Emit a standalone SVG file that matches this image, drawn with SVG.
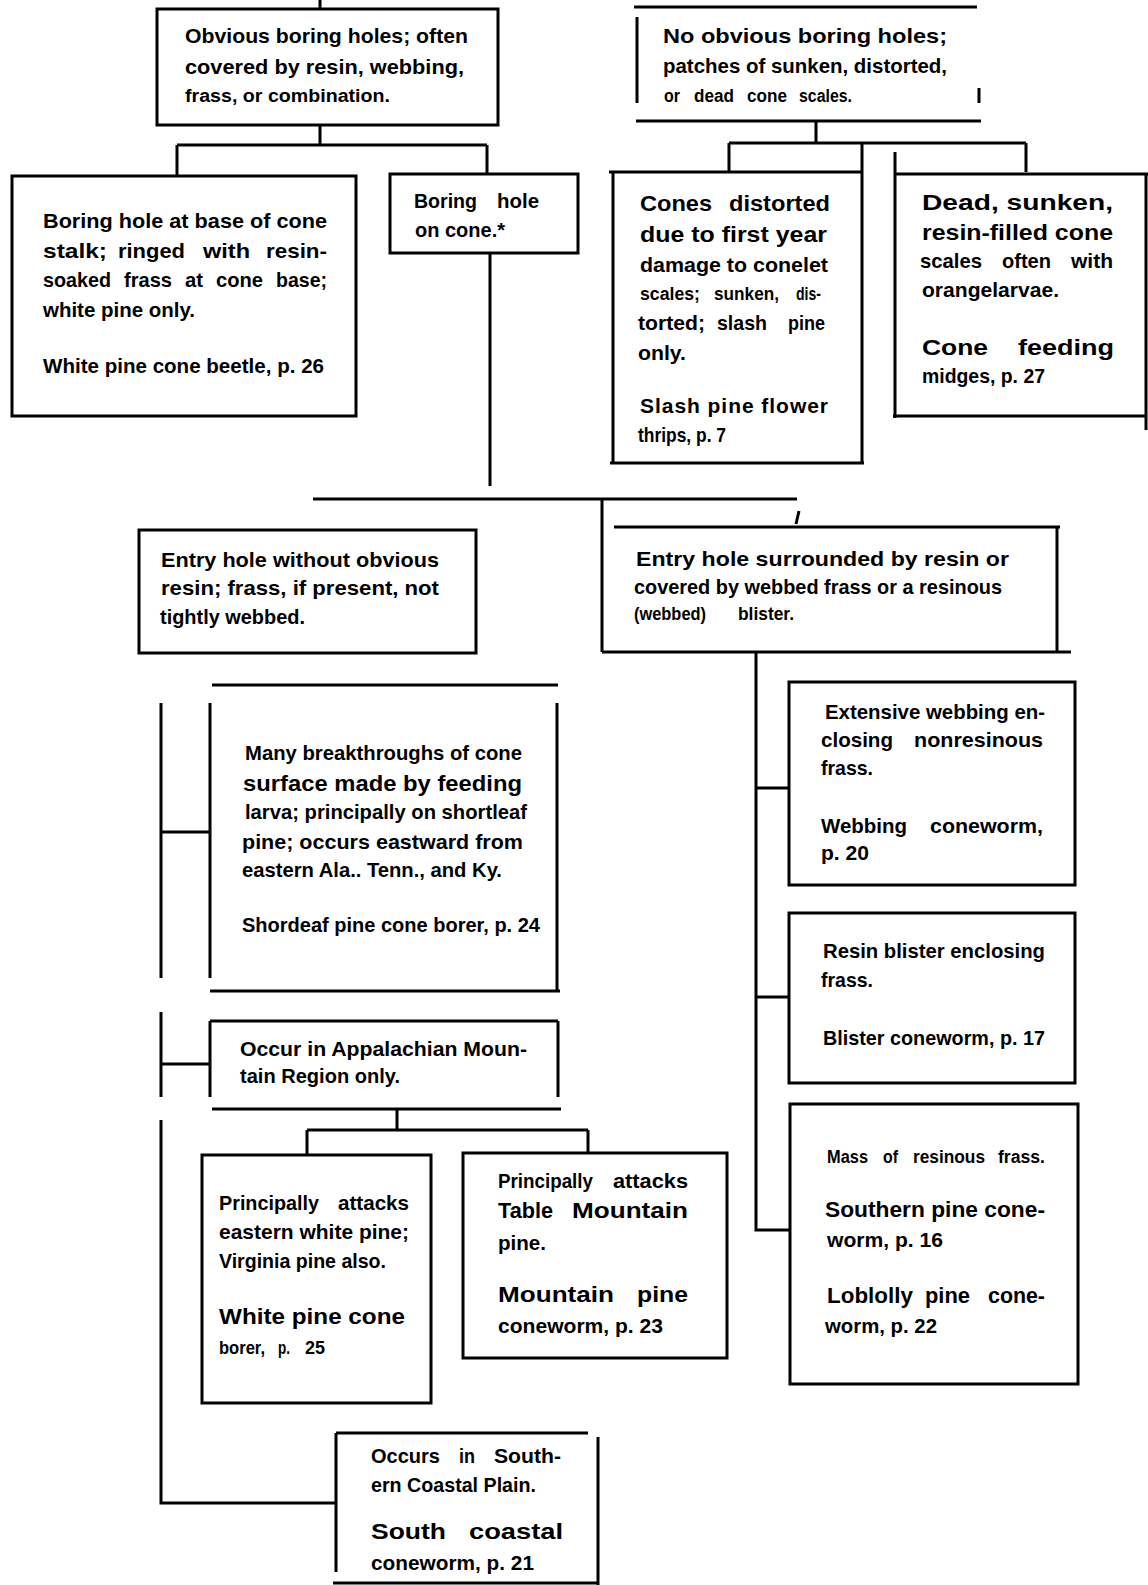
<svg xmlns="http://www.w3.org/2000/svg" width="1148" height="1585" viewBox="0 0 1148 1585">
<style>
text{font-family:"Liberation Sans",Arial,Helvetica,sans-serif;font-size:21px;font-weight:bold;fill:#000}
text.l{font-size:22px}
text.s{font-size:18px}
.b{fill:none;stroke:#000;stroke-width:3}
.c{fill:none;stroke:#000;stroke-width:3}
</style>
<rect width="1148" height="1585" fill="#fff"/>
<g id="connectors">
<path class="c" d="M320 0V9"/>
<path class="c" d="M320 125V145M177 145H487M177 145V176M487 145V174"/>
<path class="c" d="M490 253V486M313 499H797M602 499V652M799 511L796 524"/>
<path class="c" d="M816 122V143M729 143H1026M729 143V172M1026 143V172"/>
<path class="c" d="M756 652V1230H790M756 788H789M756 997H789"/>
<path class="c" d="M161 703V978M161 832H210"/>
<path class="c" d="M161 1012V1097M161 1064H210"/>
<path class="c" d="M397 1109V1130M307 1130H588M307 1130V1155M588 1130V1153"/>
<path class="c" d="M161 1120V1503H336"/>
</g>
<g id="n1">
<path class="b" d="M157 9H498V125H157Z"/>
<text x="185" y="43" textLength="283" lengthAdjust="spacingAndGlyphs">Obvious boring holes; often</text>
<text x="185" y="74" textLength="279" lengthAdjust="spacingAndGlyphs">covered by resin, webbing,</text>
<text class="s" x="185" y="102" textLength="205" lengthAdjust="spacingAndGlyphs">frass, or combination.</text>
</g>
<g id="n2">
<path class="b" d="M12 176H356V416H12Z"/>
<text x="43" y="228" textLength="284" lengthAdjust="spacingAndGlyphs">Boring hole at base of cone</text>
<text x="43" y="258" textLength="64" lengthAdjust="spacingAndGlyphs">stalk;</text>
<text x="118" y="258" textLength="67" lengthAdjust="spacingAndGlyphs">ringed</text>
<text x="203" y="258" textLength="47" lengthAdjust="spacingAndGlyphs">with</text>
<text x="266" y="258" textLength="61" lengthAdjust="spacingAndGlyphs">resin-</text>
<text x="43" y="287" textLength="68" lengthAdjust="spacingAndGlyphs">soaked</text>
<text x="124" y="287" textLength="48" lengthAdjust="spacingAndGlyphs">frass</text>
<text x="185" y="287" textLength="18" lengthAdjust="spacingAndGlyphs">at</text>
<text x="216" y="287" textLength="47" lengthAdjust="spacingAndGlyphs">cone</text>
<text x="276" y="287" textLength="51" lengthAdjust="spacingAndGlyphs">base;</text>
<text x="43" y="317" textLength="152" lengthAdjust="spacingAndGlyphs">white pine only.</text>
<text x="43" y="373" textLength="281" lengthAdjust="spacingAndGlyphs">White pine cone beetle, p. 26</text>
</g>
<g id="n3">
<path class="b" d="M390 174H578V253H390Z"/>
<text x="414" y="208" textLength="63" lengthAdjust="spacingAndGlyphs">Boring</text>
<text x="497" y="208" textLength="42" lengthAdjust="spacingAndGlyphs">hole</text>
<text x="415" y="237" textLength="90" lengthAdjust="spacingAndGlyphs">on cone.*</text>
</g>
<g id="n4">
<path class="b" d="M634 7H977M637 17V103M979 88V103M636 121H981"/>
<text x="663" y="43" textLength="284" lengthAdjust="spacingAndGlyphs">No obvious boring holes;</text>
<text x="663" y="73" textLength="284" lengthAdjust="spacingAndGlyphs">patches of sunken, distorted,</text>
<text class="s" x="664" y="102" textLength="16" lengthAdjust="spacingAndGlyphs">or</text>
<text class="s" x="694" y="102" textLength="40" lengthAdjust="spacingAndGlyphs">dead</text>
<text class="s" x="747" y="102" textLength="40" lengthAdjust="spacingAndGlyphs">cone</text>
<text class="s" x="799" y="102" textLength="53" lengthAdjust="spacingAndGlyphs">scales.</text>
</g>
<g id="n5">
<path class="b" d="M609 172H861M613 172V463M862 143V463M610 463H864"/>
<text class="l" x="640" y="211" textLength="72" lengthAdjust="spacingAndGlyphs">Cones</text>
<text class="l" x="729" y="211" textLength="101" lengthAdjust="spacingAndGlyphs">distorted</text>
<text class="l" x="640" y="242" textLength="187" lengthAdjust="spacingAndGlyphs">due to first year</text>
<text x="640" y="272" textLength="188" lengthAdjust="spacingAndGlyphs">damage to conelet</text>
<text class="s" x="640" y="300" textLength="60" lengthAdjust="spacingAndGlyphs">scales;</text>
<text class="s" x="714" y="300" textLength="65" lengthAdjust="spacingAndGlyphs">sunken,</text>
<text class="s" x="796" y="300" textLength="25" lengthAdjust="spacingAndGlyphs">dis-</text>
<text x="638" y="330" textLength="67" lengthAdjust="spacingAndGlyphs">torted;</text>
<text x="717" y="330" textLength="50" lengthAdjust="spacingAndGlyphs">slash</text>
<text x="788" y="330" textLength="37" lengthAdjust="spacingAndGlyphs">pine</text>
<text x="638" y="360" textLength="48" lengthAdjust="spacingAndGlyphs">only.</text>
<text x="640" y="413" textLength="188" lengthAdjust="spacing">Slash pine flower</text>
<text x="638" y="442" textLength="88" lengthAdjust="spacingAndGlyphs">thrips, p. 7</text>
</g>
<g id="n6">
<path class="b" d="M895 174H1148M895 152V418M893 416H1147M1146 174V430"/>
<text class="l" x="922" y="210" textLength="191" lengthAdjust="spacingAndGlyphs">Dead, sunken,</text>
<text class="l" x="922" y="240" textLength="191" lengthAdjust="spacingAndGlyphs">resin-filled cone</text>
<text x="920" y="268" textLength="62" lengthAdjust="spacingAndGlyphs">scales</text>
<text x="1002" y="268" textLength="49" lengthAdjust="spacingAndGlyphs">often</text>
<text x="1071" y="268" textLength="42" lengthAdjust="spacingAndGlyphs">with</text>
<text x="922" y="297" textLength="137" lengthAdjust="spacingAndGlyphs">orangelarvae.</text>
<text class="l" x="922" y="355" textLength="66" lengthAdjust="spacingAndGlyphs">Cone</text>
<text class="l" x="1018" y="355" textLength="96" lengthAdjust="spacingAndGlyphs">feeding</text>
<text x="922" y="383" textLength="123" lengthAdjust="spacingAndGlyphs">midges, p. 27</text>
</g>
<g id="n7">
<path class="b" d="M139 530H476V653H139Z"/>
<text x="161" y="567" textLength="278" lengthAdjust="spacingAndGlyphs">Entry hole without obvious</text>
<text x="161" y="595" textLength="278" lengthAdjust="spacingAndGlyphs">resin; frass, if present, not</text>
<text x="160" y="624" textLength="145" lengthAdjust="spacingAndGlyphs">tightly webbed.</text>
</g>
<g id="n8">
<path class="b" d="M614 527H1060M1057 527V651M602 652H1071"/>
<text x="636" y="566" textLength="373" lengthAdjust="spacingAndGlyphs">Entry hole surrounded by resin or</text>
<text x="634" y="594" textLength="368" lengthAdjust="spacingAndGlyphs">covered by webbed frass or a resinous</text>
<text class="s" x="634" y="620" textLength="72" lengthAdjust="spacingAndGlyphs">(webbed)</text>
<text class="s" x="738" y="620" textLength="56" lengthAdjust="spacingAndGlyphs">blister.</text>
</g>
<g id="n9">
<path class="b" d="M212 685H558M210 703V978M557 703V990M210 991H560"/>
<text x="245" y="760" textLength="277" lengthAdjust="spacingAndGlyphs">Many breakthroughs of cone</text>
<text class="l" x="243" y="791" textLength="279" lengthAdjust="spacingAndGlyphs">surface made by feeding</text>
<text x="245" y="819" textLength="282" lengthAdjust="spacingAndGlyphs">larva; principally on shortleaf</text>
<text x="242" y="849" textLength="281" lengthAdjust="spacingAndGlyphs">pine; occurs eastward from</text>
<text x="242" y="877" textLength="260" lengthAdjust="spacingAndGlyphs">eastern Ala.. Tenn., and Ky.</text>
<text x="242" y="932" textLength="298" lengthAdjust="spacingAndGlyphs">Shordeaf pine cone borer, p. 24</text>
</g>
<g id="n10">
<path class="b" d="M210 1021H558M210 1021V1097M558 1021V1097M212 1109H561"/>
<text x="240" y="1056" textLength="287" lengthAdjust="spacingAndGlyphs">Occur in Appalachian Moun-</text>
<text x="240" y="1083" textLength="160" lengthAdjust="spacingAndGlyphs">tain Region only.</text>
</g>
<g id="n11">
<path class="b" d="M202 1155H431V1403H202Z"/>
<text x="219" y="1210" textLength="100" lengthAdjust="spacingAndGlyphs">Principally</text>
<text x="338" y="1210" textLength="71" lengthAdjust="spacingAndGlyphs">attacks</text>
<text x="219" y="1239" textLength="190" lengthAdjust="spacingAndGlyphs">eastern white pine;</text>
<text x="219" y="1268" textLength="167" lengthAdjust="spacingAndGlyphs">Virginia pine also.</text>
<text class="l" x="219" y="1324" textLength="186" lengthAdjust="spacingAndGlyphs">White pine cone</text>
<text class="s" x="219" y="1354" textLength="46" lengthAdjust="spacingAndGlyphs">borer,</text>
<text class="s" x="278" y="1354" textLength="12" lengthAdjust="spacingAndGlyphs">p.</text>
<text class="s" x="305" y="1354" textLength="20" lengthAdjust="spacingAndGlyphs">25</text>
</g>
<g id="n12">
<path class="b" d="M463 1153H727V1358H463Z"/>
<text x="498" y="1188" textLength="95" lengthAdjust="spacingAndGlyphs">Principally</text>
<text x="613" y="1188" textLength="75" lengthAdjust="spacingAndGlyphs">attacks</text>
<text class="l" x="498" y="1218" textLength="55" lengthAdjust="spacingAndGlyphs">Table</text>
<text class="l" x="572" y="1218" textLength="116" lengthAdjust="spacingAndGlyphs">Mountain</text>
<text x="498" y="1250" textLength="48" lengthAdjust="spacingAndGlyphs">pine.</text>
<text class="l" x="498" y="1302" textLength="116" lengthAdjust="spacingAndGlyphs">Mountain</text>
<text class="l" x="637" y="1302" textLength="51" lengthAdjust="spacingAndGlyphs">pine</text>
<text x="498" y="1333" textLength="165" lengthAdjust="spacingAndGlyphs">coneworm, p. 23</text>
</g>
<g id="n13">
<path class="b" d="M336 1433H588M336 1433V1572M598 1437V1585M333 1583H598"/>
<text x="371" y="1463" textLength="69" lengthAdjust="spacingAndGlyphs">Occurs</text>
<text x="459" y="1463" textLength="16" lengthAdjust="spacingAndGlyphs">in</text>
<text x="494" y="1463" textLength="67" lengthAdjust="spacingAndGlyphs">South-</text>
<text x="371" y="1492" textLength="165" lengthAdjust="spacingAndGlyphs">ern Coastal Plain.</text>
<text class="l" x="371" y="1539" textLength="75" lengthAdjust="spacingAndGlyphs">South</text>
<text class="l" x="469" y="1539" textLength="94" lengthAdjust="spacingAndGlyphs">coastal</text>
<text x="371" y="1570" textLength="163" lengthAdjust="spacingAndGlyphs">coneworm, p. 21</text>
</g>
<g id="n14">
<path class="b" d="M789 682H1075V885H789Z"/>
<text x="825" y="719" textLength="220" lengthAdjust="spacingAndGlyphs">Extensive webbing en-</text>
<text x="821" y="747" textLength="72" lengthAdjust="spacingAndGlyphs">closing</text>
<text x="914" y="747" textLength="129" lengthAdjust="spacingAndGlyphs">nonresinous</text>
<text x="821" y="775" textLength="52" lengthAdjust="spacingAndGlyphs">frass.</text>
<text x="821" y="833" textLength="86" lengthAdjust="spacingAndGlyphs">Webbing</text>
<text x="930" y="833" textLength="113" lengthAdjust="spacingAndGlyphs">coneworm,</text>
<text x="821" y="860" textLength="48" lengthAdjust="spacingAndGlyphs">p. 20</text>
</g>
<g id="n15">
<path class="b" d="M789 913H1075V1083H789Z"/>
<text x="823" y="958" textLength="222" lengthAdjust="spacingAndGlyphs">Resin blister enclosing</text>
<text x="821" y="987" textLength="52" lengthAdjust="spacingAndGlyphs">frass.</text>
<text x="823" y="1045" textLength="222" lengthAdjust="spacingAndGlyphs">Blister coneworm, p. 17</text>
</g>
<g id="n16">
<path class="b" d="M790 1104H1078V1384H790Z"/>
<text class="s" x="827" y="1163" textLength="41" lengthAdjust="spacingAndGlyphs">Mass</text>
<text class="s" x="883" y="1163" textLength="15" lengthAdjust="spacingAndGlyphs">of</text>
<text class="s" x="913" y="1163" textLength="72" lengthAdjust="spacingAndGlyphs">resinous</text>
<text class="s" x="998" y="1163" textLength="47" lengthAdjust="spacingAndGlyphs">frass.</text>
<text class="l" x="825" y="1217" textLength="220" lengthAdjust="spacingAndGlyphs">Southern pine cone-</text>
<text x="827" y="1247" textLength="116" lengthAdjust="spacingAndGlyphs">worm, p. 16</text>
<text class="l" x="827" y="1303" textLength="86" lengthAdjust="spacingAndGlyphs">Loblolly</text>
<text class="l" x="925" y="1303" textLength="45" lengthAdjust="spacingAndGlyphs">pine</text>
<text class="l" x="988" y="1303" textLength="57" lengthAdjust="spacingAndGlyphs">cone-</text>
<text x="825" y="1333" textLength="112" lengthAdjust="spacingAndGlyphs">worm, p. 22</text>
</g>
</svg>
